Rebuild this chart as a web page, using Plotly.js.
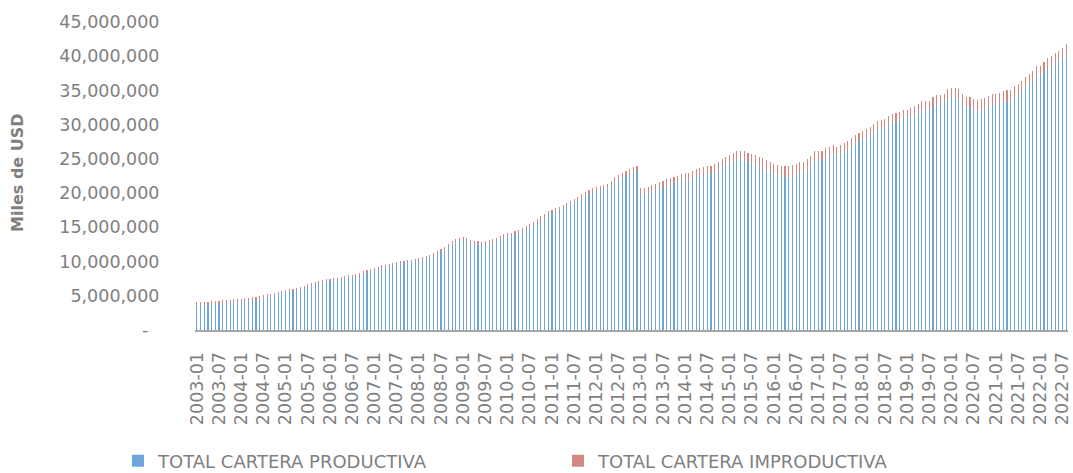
<!DOCTYPE html>
<html><head><meta charset="utf-8">
<script src="https://cdn.plot.ly/plotly-3.0.1.min.js"></script>
<style>html,body{margin:0;padding:0;background:#fff;} #chart{width:1073px;height:473px;}</style>
</head><body><div id="chart"></div>
<script>
// Monthly categories 2003-01 .. 2022-08
const startYear = 2003;
const monthCount = 236;
const months = [];
for (let i = 0; i < monthCount; i++) {
  const y = startYear + Math.floor(i / 12);
  const m = (i % 12) + 1;
  months.push(y + '-' + (m < 10 ? '0' : '') + m);
}

// Values in millions of "Miles de USD" (multiplied by UNIT below)
const UNIT = 1e6;
const productiva = [
  3.62,3.61,3.65,3.69,3.74,3.80,3.83,3.88,3.97,4.03,4.08,4.15,
  4.18,4.20,4.29,4.37,4.45,4.55,4.66,4.82,4.92,5.03,5.19,5.36,
  5.54,5.59,5.69,5.85,6.00,6.15,6.36,6.51,6.67,6.82,6.98,7.10,
  7.18,7.23,7.33,7.43,7.59,7.69,7.79,7.89,8.05,8.25,8.40,8.57,
  8.69,8.88,9.13,9.23,9.37,9.52,9.67,9.72,9.82,9.87,9.97,10.09,
  10.17,10.26,10.46,10.66,10.85,11.15,11.45,11.85,12.24,12.64,12.93,13.14,
  13.18,12.95,12.62,12.50,12.43,12.37,12.46,12.55,12.75,12.96,13.28,13.52,
  13.58,13.67,13.87,14.08,14.38,14.69,14.99,15.30,15.70,16.11,16.52,16.96,
  17.12,17.31,17.50,17.80,18.09,18.38,18.67,18.96,19.25,19.54,19.84,20.18,
  20.33,20.41,20.59,20.77,21.15,21.73,22.01,22.29,22.57,22.76,23.05,23.30,
  19.90,19.88,20.06,20.34,20.52,20.70,20.88,21.06,21.25,21.44,21.53,21.88,
  21.90,21.97,22.25,22.43,22.51,22.70,22.88,22.86,23.05,23.34,23.85,24.25,
  24.48,24.74,24.90,24.96,24.82,24.58,24.34,24.10,23.87,23.65,23.34,23.12,
  22.75,22.60,22.46,22.42,22.40,22.48,22.67,22.88,23.00,23.44,23.90,24.85,
  24.82,24.80,25.20,25.42,25.74,25.45,25.66,25.98,26.30,26.72,27.24,27.65,
  27.92,28.10,28.38,28.86,29.34,29.43,29.62,29.91,30.20,30.40,30.62,30.92,
  30.98,31.15,31.42,31.70,32.08,32.06,32.15,32.63,33.02,33.02,33.13,33.92,
  33.98,33.95,33.80,33.05,32.60,32.48,32.16,32.04,32.12,32.30,32.62,33.02,
  33.00,33.18,33.36,33.45,33.54,34.04,34.35,34.86,35.47,35.88,36.40,37.05,
  37.12,37.70,38.18,38.57,38.96,39.25,39.64,40.23
];
const improductiva = [
  0.48,0.47,0.47,0.46,0.46,0.45,0.45,0.44,0.43,0.42,0.42,0.40,
  0.42,0.42,0.41,0.41,0.40,0.40,0.39,0.38,0.38,0.37,0.36,0.34,
  0.36,0.36,0.36,0.35,0.35,0.35,0.34,0.34,0.33,0.33,0.32,0.30,
  0.32,0.32,0.32,0.32,0.31,0.31,0.31,0.31,0.30,0.30,0.30,0.28,
  0.31,0.32,0.32,0.32,0.33,0.33,0.33,0.33,0.33,0.33,0.33,0.31,
  0.33,0.34,0.34,0.34,0.35,0.35,0.35,0.35,0.36,0.36,0.37,0.36,
  0.42,0.45,0.48,0.50,0.52,0.53,0.54,0.55,0.55,0.54,0.52,0.48,
  0.52,0.53,0.53,0.52,0.52,0.51,0.51,0.50,0.50,0.49,0.48,0.44,
  0.48,0.49,0.50,0.50,0.51,0.52,0.53,0.54,0.55,0.56,0.56,0.52,
  0.57,0.59,0.61,0.63,0.65,0.67,0.69,0.71,0.73,0.74,0.75,0.70,
  0.80,0.82,0.84,0.86,0.88,0.90,0.92,0.94,0.95,0.96,0.97,0.92,
  1.00,1.03,1.05,1.07,1.09,1.10,1.12,1.14,1.15,1.16,1.15,1.05,
  1.12,1.16,1.20,1.24,1.28,1.32,1.36,1.40,1.43,1.45,1.46,1.38,
  1.45,1.50,1.54,1.58,1.60,1.62,1.63,1.62,1.60,1.56,1.50,1.35,
  1.38,1.40,1.40,1.38,1.36,1.35,1.34,1.32,1.30,1.28,1.26,1.15,
  1.18,1.20,1.22,1.24,1.26,1.27,1.28,1.29,1.30,1.30,1.28,1.18,
  1.22,1.25,1.28,1.30,1.32,1.34,1.35,1.37,1.38,1.38,1.37,1.28,
  1.32,1.35,1.40,1.45,1.50,1.52,1.54,1.56,1.58,1.60,1.58,1.48,
  1.50,1.52,1.54,1.55,1.56,1.56,1.55,1.54,1.53,1.52,1.50,1.45,
  1.48,1.50,1.52,1.53,1.54,1.55,1.56,1.57
];

const seriesNames = ['TOTAL CARTERA PRODUCTIVA', 'TOTAL CARTERA IMPRODUCTIVA'];
const xTickVals = months.filter((_, i) => i % 6 === 0);
const yTickVals = [0, 5e6, 10e6, 15e6, 20e6, 25e6, 30e6, 35e6, 40e6, 45e6];
const yTickText = ['-\u00a0\u00a0', '5,000,000', '10,000,000', '15,000,000', '20,000,000',
  '25,000,000', '30,000,000', '35,000,000', '40,000,000', '45,000,000'];
const yTitle = 'Miles de USD';

const FONT = 'DejaVu Sans, sans-serif';
const GRAY = '#7f7f7f';

const traces = [
  { type: 'bar', name: seriesNames[0], x: months, y: productiva.map(v => v * UNIT),
    legend: 'legend', marker: { color: '#6FA6DA', line: { width: 0 } } },
  { type: 'bar', name: seriesNames[1], x: months, y: improductiva.map(v => v * UNIT),
    legend: 'legend2', marker: { color: '#D08A80', line: { width: 0 } } }
];

const legendBase = {
  orientation: 'h', xref: 'container', xanchor: 'left',
  yref: 'container', y: 12 / 473, yanchor: 'middle',
  font: { family: FONT, size: 18, color: GRAY }, bgcolor: 'rgba(0,0,0,0)'
};

const layout = {
  width: 1073, height: 473,
  margin: { l: 195, r: 5, t: 22, b: 143, pad: 0 },
  paper_bgcolor: '#fff', plot_bgcolor: '#fff',
  barmode: 'stack', bargap: 0.7,
  font: { family: FONT, color: GRAY, size: 17.5 },
  showlegend: true,
  legend: Object.assign({}, legendBase, { x: 118 / 1073 }),
  legend2: Object.assign({}, legendBase, { x: 558 / 1073 }),
  xaxis: {
    type: 'category', tickmode: 'array', tickvals: xTickVals, ticktext: xTickVals,
    tickangle: -90, tickfont: { family: FONT, size: 17.5, color: GRAY },
    ticks: 'outside', ticklen: 13, tickcolor: 'rgba(0,0,0,0)',
    showline: true, linecolor: '#a6a6a6', linewidth: 2, showgrid: false, zeroline: false,
    automargin: false, fixedrange: true
  },
  yaxis: {
    range: [0, 45e6], tickmode: 'array', tickvals: yTickVals, ticktext: yTickText,
    tickfont: { family: FONT, size: 17.5, color: GRAY },
    ticks: 'outside', ticklen: 31, tickcolor: 'rgba(0,0,0,0)',
    showline: false, showgrid: false, zeroline: false, automargin: false, fixedrange: true
  },
  annotations: [{
    text: '<b>' + yTitle + '</b>', textangle: -90, showarrow: false,
    xref: 'paper', yref: 'paper', x: 0, y: 0.51, xanchor: 'center', yanchor: 'middle',
    xshift: -177, font: { family: FONT, size: 16, color: GRAY }
  }]
};

Plotly.newPlot('chart', traces, layout, { staticPlot: true, displayModeBar: false });
</script>
</body></html>
